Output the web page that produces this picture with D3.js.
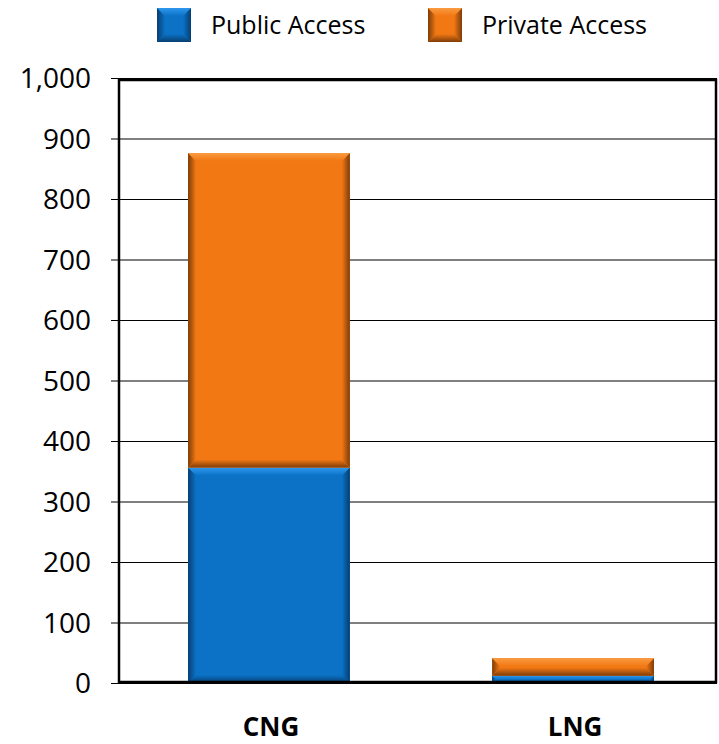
<!DOCTYPE html>
<html lang="en">
<head>
  <meta charset="UTF-8">
  <title>CNG / LNG stations</title>
  <style>
      body{ margin:0; background:#fff; }
      text{ font-family:"Open Sans", sans-serif; fill:#000; }
      .axis .domain{ display:none; }
  </style>
</head>
<body>
    <svg width="719" height="744"></svg>
    <script src="https://d3js.org/d3.v7.min.js"></script>
    <script>
        // data
        var categories = ["CNG", "LNG"];
        var seriesNames = ["Public Access", "Private Access"];
        var publicAccess = [356, 12];
        var privateAccess = [520, 29];
        var yTicks = [0, 100, 200, 300, 400, 500, 600, 700, 800, 900, 1000];

        var colors = {
            "Public Access":  {base:"#0B72C6", light:"#2E98EE", dark:"#063E70"},
            "Private Access": {base:"#F27814", light:"#FA9B40", dark:"#7E3C08"}
        };

        var svg = d3.select("svg"),
            margin = {top: 78, right: 2, bottom: 61, left: 119},
            width = +svg.attr("width") - margin.left - margin.right,
            height = +svg.attr("height") - margin.top - margin.bottom;

        var rows = categories.map(function(c, i) {
            return {cat: c, "Public Access": publicAccess[i], "Private Access": privateAccess[i]};
        });
        var stacked = d3.stack().keys(seriesNames)(rows);

        var x = d3.scaleBand().domain(categories).range([0, width + 6]).paddingInner(0.468).paddingOuter(0.227);
        var y = d3.scaleLinear().domain([0, 1000]).range([height, 0]);

        // gradients for the bevelled bars
        var defs = svg.append("defs");
        seriesNames.forEach(function(s, si) {
            var c = colors[s];
            var sides = {
                l: {x1:0, y1:0, x2:1, y2:0, from:c.dark, to:c.base},
                r: {x1:0, y1:0, x2:1, y2:0, from:c.base, to:c.dark},
                t: {x1:0, y1:0, x2:0, y2:1, from:c.light, to:c.base},
                b: {x1:0, y1:0, x2:0, y2:1, from:c.base, to:c.dark}
            };
            Object.keys(sides).forEach(function(k) {
                var d = sides[k];
                var g = defs.append("linearGradient").attr("id", "g" + si + k)
                    .attr("x1", d.x1).attr("y1", d.y1).attr("x2", d.x2).attr("y2", d.y2);
                g.append("stop").attr("offset", "0%").attr("stop-color", d.from);
                g.append("stop").attr("offset", "100%").attr("stop-color", d.to);
            });
        });

        var g = svg.append("g").attr("transform", "translate(" + margin.left + "," + margin.top + ")");

        // gridlines + ticks
        g.append("g")
            .attr("class", "axis")
            .call(d3.axisLeft(y).tickValues(yTicks).tickSize(-width).tickPadding(28).tickFormat(d3.format(",")))
            .call(function(a) {
                a.selectAll(".tick line").attr("stroke", "#000").attr("stroke-width", 1).attr("x1", -8);
                a.selectAll(".tick text").attr("font-size", 28).attr("dy", "0.35em");
            });

        // bars
        var layer = g.selectAll(".layer")
            .data(stacked)
            .enter().append("g")
            .attr("class", "layer");

        layer.each(function(s, si) {
            var lg = d3.select(this);
            s.forEach(function(d, i) {
                var x0 = x(categories[i]), w = x.bandwidth();
                var y0 = y(d[1]), y1 = y(d[0]), h = y1 - y0;
                var b = Math.min(8, h / 2);
                var x1 = x0 + w;
                lg.append("rect")
                    .attr("x", x0).attr("y", y0).attr("width", w).attr("height", h)
                    .attr("fill", colors[s.key].base);
                var pts = {
                    t: [[x0, y0], [x1, y0], [x1 - b, y0 + b], [x0 + b, y0 + b]],
                    b: [[x0 + b, y1 - b], [x1 - b, y1 - b], [x1, y1], [x0, y1]],
                    l: [[x0, y0], [x0 + b, y0 + b], [x0 + b, y1 - b], [x0, y1]],
                    r: [[x1 - b, y0 + b], [x1, y0], [x1, y1], [x1 - b, y1 - b]]
                };
                ["l", "r", "t", "b"].forEach(function(k) {
                    lg.append("polygon")
                        .attr("points", pts[k].map(function(p) { return p.join(","); }).join(" "))
                        .attr("fill", "url(#g" + si + k + ")");
                });
            });
        });

        // plot frame
        g.append("rect")
            .attr("x", 0).attr("y", y(1000) + 2)
            .attr("width", width - 1).attr("height", y(0) - y(1000) - 3)
            .attr("fill", "none").attr("stroke", "#000").attr("stroke-width", 2.5);

        // category labels
        g.append("g")
            .attr("class", "axis")
            .attr("transform", "translate(0," + height + ")")
            .call(d3.axisBottom(x).tickSize(0).tickPadding(35))
            .call(function(a) {
                a.selectAll(".tick text").attr("font-size", 26).attr("font-weight", "bold").attr("dx", 2);
            });

        // legend
        var legendX = [157, 428];
        var legend = svg.append("g").selectAll("g")
            .data(seriesNames)
            .enter().append("g")
            .attr("transform", function(d, i) { return "translate(" + legendX[i] + ",8)"; });

        legend.each(function(s, si) {
            var lg = d3.select(this), w = 34, b = 8;
            lg.append("rect").attr("width", w).attr("height", w).attr("fill", colors[s].base);
            var pts = {
                t: [[0, 0], [w, 0], [w - b, b], [b, b]],
                b: [[b, w - b], [w - b, w - b], [w, w], [0, w]],
                l: [[0, 0], [b, b], [b, w - b], [0, w]],
                r: [[w - b, b], [w, 0], [w, w], [w - b, w - b]]
            };
            ["l", "r", "t", "b"].forEach(function(k) {
                lg.append("polygon")
                    .attr("points", pts[k].map(function(p) { return p.join(","); }).join(" "))
                    .attr("fill", "url(#g" + si + k + ")");
            });
        });

        legend.append("text")
            .attr("x", 54).attr("y", 17).attr("dy", "0.35em")
            .attr("font-size", 25)
            .text(function(d) { return d; });
    </script>
</body>
</html>
